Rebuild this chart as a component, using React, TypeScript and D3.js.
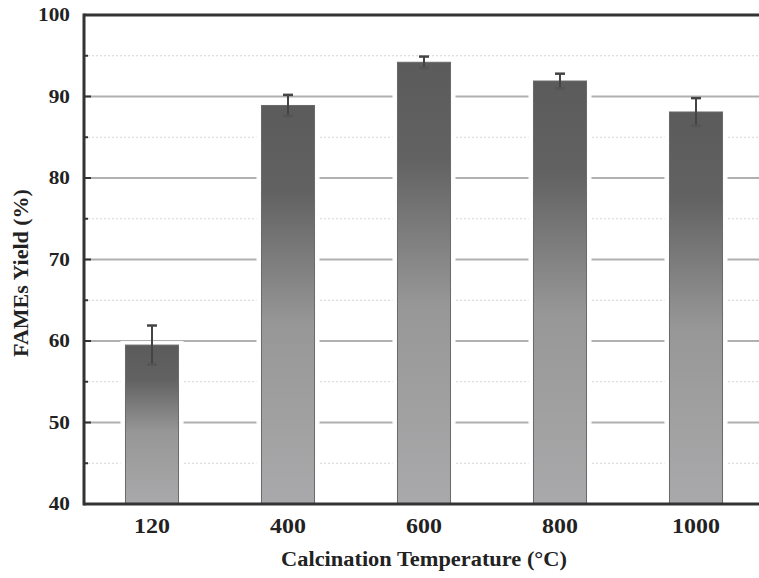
import React from "react";
import * as d3 from "d3";

const categories = ["120", "400", "600", "800", "1000"];
const yields = [59.5, 88.9, 94.2, 91.9, 88.1];
const errors = [2.4, 1.3, 0.7, 0.9, 1.7];
const yTicks = [40, 50, 60, 70, 80, 90, 100];
const yMinorTicks = [45, 55, 65, 75, 85, 95];

const W = 759;
const H = 578;
const margin = { left: 84, top: 15, bottom: 74 };
const plotBottom = H - margin.bottom; // 504

export default function App() {
  const x = d3
    .scaleBand<string>()
    .domain(categories)
    .range([margin.left, margin.left + 5 * 136])
    .paddingInner(0.61)
    .paddingOuter(0.305);
  const y = d3.scaleLinear().domain([40, 100]).range([plotBottom, margin.top]);
  const bw = x.bandwidth();
  const font = "'Liberation Serif', 'Times New Roman', serif";

  return (
    <svg width={W} height={H} style={{ display: "block", position: "absolute", left: 0, top: 0, background: "#fff" }}>
      <defs>
        <linearGradient id="barGrad" x1="0" y1="0" x2="0" y2="1">
          <stop offset="0%" stopColor="#5b5b5b" />
          <stop offset="22%" stopColor="#626262" />
          <stop offset="55%" stopColor="#979797" />
          <stop offset="100%" stopColor="#a9a9ab" />
        </linearGradient>
      </defs>
      <rect x={0} y={0} width={W} height={H} fill="#fff" />
      {/* minor dotted gridlines */}
      {yMinorTicks.map((t) => (
        <line key={"mg" + t} x1={margin.left} x2={W} y1={y(t)} y2={y(t)} stroke="#d4d4d4" strokeWidth={1} strokeDasharray="2,2" />
      ))}
      {/* major gridlines */}
      {yTicks.filter((t) => t > 40 && t < 100).map((t) => (
        <line key={"g" + t} x1={margin.left} x2={W} y1={y(t)} y2={y(t)} stroke="#b0b0b0" strokeWidth={2} />
      ))}
      {/* bars */}
      {categories.map((c, i) => {
        const x0 = x(c)!;
        const yt = y(yields[i]);
        return (
          <g key={c}>
            <rect x={x0 - 5} y={yt - 4} width={bw + 10} height={plotBottom - yt + 4} fill="#fff" />
            <rect x={x0} y={yt} width={bw} height={plotBottom - yt} fill="url(#barGrad)" stroke="#6a6a6a" strokeWidth={1} />
          </g>
        );
      })}
      {/* error bars */}
      {categories.map((c, i) => {
        const cx = x(c)! + bw / 2;
        const yHi = y(yields[i] + errors[i]);
        const yLo = y(yields[i] - errors[i]);
        return (
          <g key={"e" + c} stroke="#444" strokeWidth={2}>
            <line x1={cx} x2={cx} y1={yHi} y2={yLo} />
            <line x1={cx - 5} x2={cx + 5} y1={yHi} y2={yHi} strokeWidth={2.5} />
            <line x1={cx - 5} x2={cx + 5} y1={yLo} y2={yLo} stroke="#555" strokeWidth={2.5} />
          </g>
        );
      })}
      {/* axes frame */}
      <line x1={margin.left} x2={W} y1={margin.top} y2={margin.top} stroke="#333" strokeWidth={3} />
      <line x1={margin.left} x2={W} y1={plotBottom} y2={plotBottom} stroke="#333" strokeWidth={3} />
      <line x1={margin.left} x2={margin.left} y1={margin.top - 1.5} y2={plotBottom + 1.5} stroke="#333" strokeWidth={3} />
      {/* y ticks */}
      {yTicks.map((t) => (
        <g key={"yt" + t}>
          <line x1={margin.left} x2={margin.left + 7} y1={y(t)} y2={y(t)} stroke="#333" strokeWidth={2} />
          <text x={70} y={y(t) + 6.5} textAnchor="end" fontFamily={font} fontWeight="bold" fontSize={19} fill="#222" transform={`translate(${70},0) scale(1.12,1) translate(${-70},0)`}>
            {t}
          </text>
        </g>
      ))}
      {yMinorTicks.map((t) => (
        <line key={"ym" + t} x1={margin.left} x2={margin.left + 4} y1={y(t)} y2={y(t)} stroke="#333" strokeWidth={2} />
      ))}
      {/* x ticks */}
      {categories.map((c) => {
        const cx = x(c)! + bw / 2;
        return (
          <text key={"xt" + c} x={cx} y={533} textAnchor="middle" fontFamily={font} fontWeight="bold" fontSize={21} fill="#222" transform={`translate(${cx},0) scale(1.14,1) translate(${-cx},0)`}>
            {c}
          </text>
        );
      })}
      {/* axis titles */}
      <text x={424} y={566} textAnchor="middle" fontFamily={font} fontWeight="bold" fontSize={20} fill="#222" transform={`translate(424,0) scale(1.12,1) translate(-424,0)`}>
        Calcination Temperature (°C)
      </text>
      <text transform={`translate(28,273) rotate(-90) scale(1.1,1)`} textAnchor="middle" fontFamily={font} fontWeight="bold" fontSize={20} fill="#222">
        FAMEs Yield (%)
      </text>
    </svg>
  );
}
